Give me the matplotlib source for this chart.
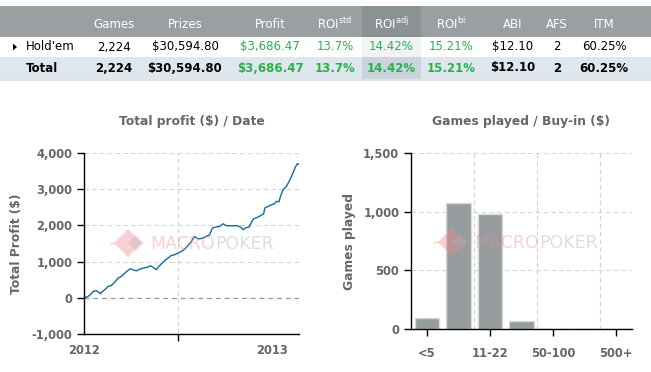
import matplotlib
matplotlib.use("Agg")
import matplotlib.pyplot as plt
from matplotlib.patches import Rectangle, Polygon

# ---------------- data ----------------
columns = ["Games", "Prizes", "Profit", "ROI$^{\\mathrm{std}}$", "ROI$^{\\mathrm{adj}}$",
           "ROI$^{\\mathrm{bi}}$", "ABI", "AFS", "ITM"]
row_holdem = ["2,224", "$30,594.80", "$3,686.47", "13.7%", "14.42%", "15.21%", "$12.10", "2", "60.25%"]
row_total = ["2,224", "$30,594.80", "$3,686.47", "13.7%", "14.42%", "15.21%", "$12.10", "2", "60.25%"]
green_cols = [2, 3, 4, 5]

# months since 1 Jan 2012
profit_months = [0, 0.25, 0.47, 0.57, 0.79, 0.96, 1.04, 1.17, 1.32, 1.53, 1.74, 1.95, 2.17, 2.38,
                 2.59, 2.80, 2.95, 3.12, 3.33, 3.55, 3.76, 4.01, 4.23, 4.39, 4.61, 4.71, 4.93,
                 5.14, 5.35, 5.56, 5.77, 5.99, 6.20, 6.41, 6.62, 6.84, 7.05, 7.20, 7.37, 7.58,
                 7.79, 8.00, 8.17, 8.39, 8.64, 8.85, 9.07, 9.28, 9.49, 9.75, 9.96, 10.13, 10.30,
                 10.51, 10.66, 10.81, 11.02, 11.23, 11.44, 11.51, 11.72, 11.93, 12.14, 12.25,
                 12.42, 12.51, 12.68, 12.89, 13.06, 13.16, 13.31, 13.48, 13.59, 13.69]
profit_values = [0, 37, 110, 175, 195, 150, 110, 175, 220, 315, 340, 425, 545, 590,
                 680, 755, 800, 775, 745, 790, 820, 840, 885, 840, 775, 840, 940,
                 1030, 1095, 1170, 1190, 1235, 1280, 1345, 1440, 1560, 1700, 1640, 1630, 1650,
                 1700, 1740, 1925, 1955, 1970, 2045, 1990, 1990, 1990, 1990, 1955, 1880, 1935,
                 1955, 2085, 2185, 2220, 2265, 2320, 2480, 2525, 2570, 2600, 2665,
                 2655, 2800, 2985, 3080, 3215, 3310, 3450, 3630, 3705, 3686]
date_tick_pos = [0, 12]
date_tick_labels = ["2012", "2013"]

buyin_cats = ["<5", "5-11", "11-22", "22-50", "50-100", "100-500", "500+"]
buyin_games = [98, 1078, 978, 70, 0, 0, 0]

# ---------------- figure ----------------
W, H = 651, 372
fig = plt.figure(figsize=(W / 100, H / 100), dpi=100)
fig.patch.set_facecolor("white")

bg = fig.add_axes([0, 0, 1, 1], zorder=0)
bg.set_xlim(0, W)
bg.set_ylim(H, 0)
bg.axis("off")

fg = fig.add_axes([0, 0, 1, 1], zorder=3)
fg.set_xlim(0, W)
fg.set_ylim(H, 0)
fg.axis("off")
fg.patch.set_alpha(0)

# table
bg.add_patch(Rectangle((0, 6), W, 31, color="#9a9fa1", lw=0))
bg.add_patch(Rectangle((362, 6), 59, 31, color="#8c9194", lw=0))
bg.add_patch(Rectangle((362, 37), 59, 20, color="#f2f3f4", lw=0))
bg.add_patch(Rectangle((0, 57), W, 22, color="#dfe7ee", lw=0))
bg.add_patch(Rectangle((362, 57), 59, 22, color="#c9d4dc", lw=0))
bg.add_patch(Rectangle((0, 79), W, 1.5, color="#e2e2e2", lw=0))

tfs = 8.5
col_x = [114, 185, 270, 335, 391, 451, 513, 557, 604]
for x, c in zip(col_x, columns):
    bg.text(x, 24, c, ha="center", va="center", color="white", fontsize=tfs)
bg.add_patch(Polygon([[13, 43.5], [13, 50.5], [17, 47]], closed=True, color="black", lw=0))
bg.text(26, 47, "Hold'em", ha="left", va="center", color="black", fontsize=tfs)
bg.text(26, 68, "Total", ha="left", va="center", color="black", fontsize=tfs, fontweight="bold")
for i, (x, a, b) in enumerate(zip(col_x, row_holdem, row_total)):
    col = "#2bb04a" if i in green_cols else "black"
    bg.text(x, 47, a, ha="center", va="center", color=col, fontsize=tfs)
    bg.text(x, 68, b, ha="center", va="center", color=col, fontsize=tfs, fontweight="bold")


def watermark(cx, cy, split):
    s = 14
    fg.add_patch(Polygon([[cx - s, cy], [cx, cy - s], [cx + s, cy], [cx, cy + s]],
                         closed=True, color="#ee8a8e", lw=0, alpha=0.4))
    fg.add_patch(Polygon([[cx, cy], [cx + 8, cy - 8], [cx + 16, cy], [cx + 8, cy + 8]],
                         closed=True, color="#b0b0b0", lw=0, alpha=0.3))
    fg.plot([cx - 18, cx - s], [cy, cy], color="#ee8a8e", alpha=0.4, lw=1)
    fg.text(split, cy + 1, "MACRO", ha="right", va="center", color="#ee8a8e", alpha=0.4,
            fontsize=12.5)
    fg.text(split, cy + 1, "POKER", ha="left", va="center", color="#a0a0a0", alpha=0.35,
            fontsize=12.5)


watermark(128, 243, 215)
watermark(452, 242, 539)

gray = "#666666"
bg.text(192, 122, "Total profit ($) / Date", ha="center", va="center", fontsize=8.8,
        fontweight="bold", color=gray)
bg.text(521, 122, "Games played / Buy-in ($)", ha="center", va="center", fontsize=8.8,
        fontweight="bold", color=gray)

# ---------------- left chart ----------------
ax1 = fig.add_axes([84 / W, 1 - 334 / H, 215 / W, 181 / H], zorder=1)
ax1.patch.set_alpha(0)
ax1.plot(profit_months, profit_values, color="#1469a0", lw=1.0)
ax1.set_xlim(0, 13.69)
ax1.set_ylim(-1000, 4000)
ax1.set_yticks([-1000, 0, 1000, 2000, 3000, 4000])
ax1.set_yticklabels(["-1,000", "0", "1,000", "2,000", "3,000", "4,000"])
for v in [1000, 2000, 3000, 4000]:
    ax1.axhline(v, color="#d4d4d4", lw=0.8, ls=(0, (4, 3)), zorder=0)
ax1.axhline(0, color="#999999", lw=0.9, ls=(0, (4, 3)), zorder=0)
ax1.axvline(6, color="#d4d4d4", lw=0.8, ls=(0, (4, 3)), zorder=0)
ax1.set_xticks([6])
ax1.set_xticklabels([""])
ax1.set_xticks(date_tick_pos, minor=True)
ax1.set_xticklabels(date_tick_labels, minor=True)
ax1.tick_params(axis="x", which="minor", length=0, pad=7)
ax1.set_ylabel("Total Profit ($)", fontsize=8.8, fontweight="bold", color=gray, labelpad=6)

# ---------------- right chart ----------------
ax2 = fig.add_axes([411 / W, 1 - 329 / H, 221 / W, 176 / H], zorder=1)
ax2.patch.set_alpha(0)
xs = list(range(len(buyin_cats)))
ax2.bar(xs, buyin_games, width=0.77, color="#979d9f", edgecolor="#d5d9da", lw=1, zorder=2)
ax2.set_xlim(-0.5, 6.5)
ax2.set_ylim(0, 1500)
ax2.set_yticks([0, 500, 1000, 1500])
ax2.set_yticklabels(["0", "500", "1,000", "1,500"])
for v in [500, 1000, 1500]:
    ax2.axhline(v, color="#d4d4d4", lw=0.8, ls=(0, (4, 3)), zorder=0)
for v in [1.5, 3.5, 5.5]:
    ax2.axvline(v, color="#d4d4d4", lw=0.8, ls=(0, (4, 3)), zorder=0)
ax2.set_xticks(xs[::2])
ax2.set_xticklabels(buyin_cats[::2])
ax2.set_ylabel("Games played", fontsize=8.8, fontweight="bold", color=gray, labelpad=5)

for ax in (ax1, ax2):
    for sp in ("top", "right"):
        ax.spines[sp].set_visible(False)
    for sp in ("left", "bottom"):
        ax.spines[sp].set_color("black")
        ax.spines[sp].set_linewidth(1)
    ax.tick_params(axis="both", which="major", length=5, width=1, color="black",
                   labelcolor=gray, labelsize=8.3)
    ax.tick_params(axis="x", which="minor", labelcolor=gray, labelsize=8.3)
    for lab in ax.get_yticklabels() + ax.get_xticklabels() + ax.get_xticklabels(minor=True):
        lab.set_fontweight("bold")
ax2.tick_params(axis="x", pad=8)

fig.savefig("out.png", dpi=100, facecolor="white")
